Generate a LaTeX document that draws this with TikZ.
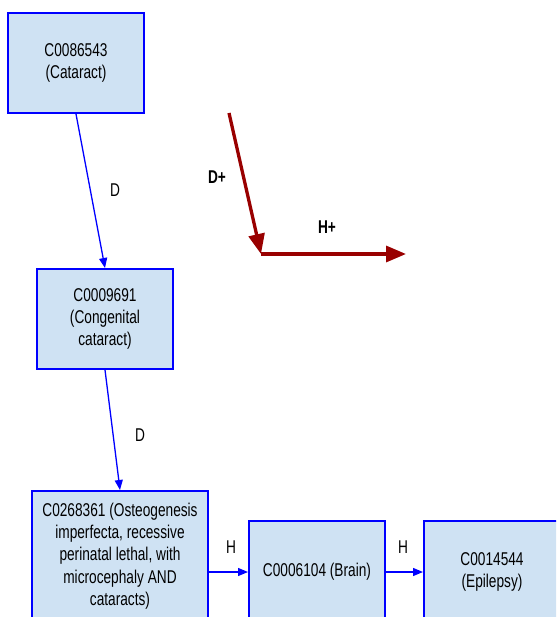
\documentclass[tikz,border=0pt]{standalone}
\usepackage{fontspec}
\setmainfont{Liberation Sans}[FakeStretch=0.74]
\usetikzlibrary{arrows.meta,calc}
\definecolor{boxfill}{RGB}{207,226,243}
\definecolor{boxline}{RGB}{0,0,255}
\definecolor{darkred}{RGB}{153,0,0}
\tikzset{
  concept/.style={draw=boxline, line width=2pt, fill=boxfill, align=center,
    inner sep=2pt, font=\fontsize{18.5}{22.3}\selectfont},
  rel/.style={draw=boxline, line width=1.3pt, -{Triangle[length=10pt,width=8pt]}},
  rellabel/.style={font=\fontsize{18.5}{22.3}\selectfont, inner sep=0pt},
  legendarrow/.style={draw=darkred, line width=3.3pt, -{Triangle[length=20pt,width=16pt]}},
  legendlabel/.style={font=\fontsize{18.5}{22.3}\selectfont\bfseries, inner sep=0pt},
}
\begin{document}
\begin{tikzpicture}[x=1pt,y=-1pt]
\useasboundingbox (0,0) rectangle (556,617);
\clip (0,0) rectangle (556,617);

% concept boxes
\node[concept, minimum width=136pt, minimum height=100pt] (cat) at (76,63)
  {C0086543\\(Cataract)};
\node[concept, minimum width=136pt, minimum height=100pt] (cong) at (105,319)
  {C0009691\\(Congenital\\cataract)};
\node[concept, minimum width=176pt, minimum height=130pt] (oi) at (120,556)
  {C0268361 (Osteogenesis\\imperfecta, recessive\\perinatal lethal, with\\microcephaly AND\\cataracts)};
\node[concept, minimum width=136pt, minimum height=102pt] (brain) at (317,572)
  {C0006104 (Brain)};
\node[concept, minimum width=136pt, minimum height=102pt] (epi) at (492,572)
  {C0014544\\(Epilepsy)};

% relations between concepts
\draw[rel] (cat.south) -- (cong.north);
\draw[rel] (cong.south) -- (oi.north);
\draw[rel] (oi.east |- brain.west) -- (brain.west);
\draw[rel] (brain.east) -- (epi.west);

\node[rellabel] (d1) at (115,190) {D};
\node[rellabel] (d2) at (140,435) {D};
\node[rellabel] (h1) at (231,547) {H};
\node[rellabel] (h2) at (403,547) {H};

% legend arrows
\coordinate (dstart) at (229,113);
\coordinate (corner) at (261,254);
\coordinate (hend) at (406,254);
\draw[legendarrow] (dstart) -- (corner);
\draw[legendarrow] (corner) -- (hend);
\node[legendlabel] (dplus) at (217,177) {D+};
\node[legendlabel] (hplus) at (327,227) {H+};
\end{tikzpicture}
\end{document}
